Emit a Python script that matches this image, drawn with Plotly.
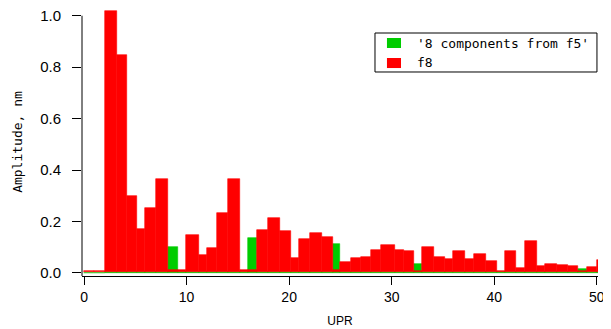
import plotly.graph_objects as go

# UPR bin edges (left edges of each bar, plus the final right edge)
upr_edges = [0.0, 1.0, 2.05, 3.22, 4.19, 5.17, 5.95, 7.02, 8.19, 9.16, 9.94,
             11.21, 11.99, 12.96, 14.04, 15.2, 15.98, 16.86, 17.93, 19.1, 20.18,
             20.96, 22.03, 23.2, 24.27, 25.0, 26.02, 27.0, 27.97, 28.95, 30.31,
             31.2, 32.16, 32.94, 34.11, 35.19, 35.96, 37.13, 38.01, 39.18, 40.25,
             41.03, 42.1, 42.98, 44.15, 44.93, 46.1, 47.17, 48.15, 49.03, 50.0, 51.0]

f8 = [0.004, 0.004, 1.016, 0.844, 0.294, 0.166, 0.248, 0.363, 0.006, 0.007,
      0.142, 0.064, 0.092, 0.228, 0.361, 0.007, 0.006, 0.162, 0.208, 0.158,
      0.053, 0.127, 0.150, 0.135, 0.006, 0.037, 0.053, 0.057, 0.084, 0.103,
      0.085, 0.083, 0.003, 0.095, 0.057, 0.049, 0.080, 0.049, 0.068, 0.041,
      0.003, 0.080, 0.014, 0.119, 0.021, 0.029, 0.025, 0.021, 0.004, 0.018,
      0.048]

comp8_f5 = [0.0, 0.0, 0.004, 0.004, 0.004, 0.004, 0.004, 0.004, 0.100, 0.004,
            0.004, 0.004, 0.004, 0.004, 0.004, 0.004, 0.134, 0.004, 0.004, 0.004,
            0.004, 0.004, 0.004, 0.004, 0.111, 0.004, 0.004, 0.004, 0.004, 0.004,
            0.004, 0.004, 0.033, 0.004, 0.004, 0.004, 0.004, 0.004, 0.004, 0.004,
            0.004, 0.004, 0.004, 0.004, 0.004, 0.004, 0.004, 0.004, 0.014, 0.004,
            0.004]

series_names = ["'8 components from f5'", "f8"]
series_colors = ["#00CC00", "#FF0000"]

y_ticks = [0.0, 0.2, 0.4, 0.6, 0.8, 1.0]
x_ticks = [0, 10, 20, 30, 40, 50]

lefts = upr_edges[:-1]
widths = [b - a for a, b in zip(upr_edges[:-1], upr_edges[1:])]

fig = go.Figure()
fig.add_trace(go.Bar(
    x=lefts, y=comp8_f5, width=widths, offset=0,
    name=series_names[0], showlegend=False,
    marker=dict(color=series_colors[0], line=dict(width=0.6, color=series_colors[0])),
))
fig.add_trace(go.Bar(
    x=lefts, y=f8, width=widths, offset=0, base=0.004,
    name=series_names[1], showlegend=False,
    marker=dict(color=series_colors[1], line=dict(width=0.6, color=series_colors[1])),
))

mono = "DejaVu Sans Mono"
sans = "Liberation Sans"

# legend drawn as a boxed key (paper coordinates)
shapes = [
    dict(type="line", xref="paper", yref="y", x0=0, x1=0,
         y0=-0.012, y1=1.0, line=dict(color="black", width=1)),
    dict(type="rect", xref="paper", yref="paper", x0=0.5678, x1=0.998,
         y0=0.7612, y1=0.9067, line=dict(color="black", width=1), fillcolor="white"),
]
annotations = []
swatch_y = [(0.8507, 0.888), (0.776, 0.8134)]
text_y = [0.8675, 0.7966]
for name, col, (sy0, sy1), ty in zip(series_names, series_colors, swatch_y, text_y):
    shapes.append(dict(type="rect", xref="paper", yref="paper", x0=0.591, x1=0.6182,
                       y0=sy0, y1=sy1, line=dict(width=0), fillcolor=col))
    annotations.append(dict(xref="paper", yref="paper", x=0.6453, y=ty, text=name,
                            showarrow=False, xanchor="left", yanchor="middle",
                            font=dict(family=mono, size=13, color="black")))

fig.update_layout(
    width=603, height=321,
    margin=dict(l=74, r=13, t=0, b=53),
    paper_bgcolor="white", plot_bgcolor="white",
    barmode="overlay", bargap=0,
    showlegend=False,
    xaxis=dict(
        range=[-0.2, 50.12], automargin=False,
        tickvals=x_ticks, ticktext=[str(v) for v in x_ticks],
        ticks="outside", ticklen=8, tickcolor="black", tickwidth=1,
        showline=True, linecolor="black", linewidth=1,
        showgrid=False, zeroline=False,
        tickfont=dict(family=sans, size=14, color="black"),
        ticklabeloverflow="allow",
        title=dict(text="UPR", font=dict(family=sans, size=12, color="black"), standoff=12),
    ),
    yaxis=dict(
        range=[-0.012, 1.03], automargin=False,
        tickvals=y_ticks, ticktext=[f"{v:.1f}" for v in y_ticks],
        ticks="outside", ticklen=9, tickcolor="black", tickwidth=1,
        ticklabelstandoff=8, ticklabeloverflow="allow",
        showline=False, showgrid=False, zeroline=False,
        tickfont=dict(family=sans, size=15, color="black"),
        title=dict(text="Amplitude, nm", font=dict(family=mono, size=13, color="black"), standoff=14),
    ),
    shapes=shapes,
    annotations=annotations,
)

fig.write_html("out.html")
